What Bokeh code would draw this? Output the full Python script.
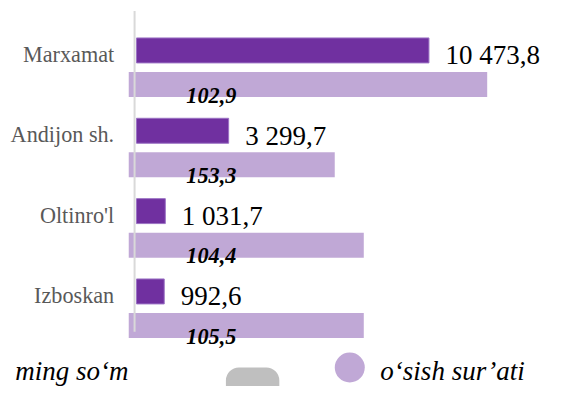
from bokeh.plotting import figure
from bokeh.models import ColumnDataSource, Range1d
from bokeh.core.properties import value
from bokeh.embed import file_html
from bokeh.resources import INLINE

# ---------------- data ----------------
categories = ["Marxamat", "Andijon sh.", "Oltinro'l", "Izboskan"]
volume = [10473.8, 3299.7, 1031.7, 992.6]            # ming so'm
volume_labels = ["10 473,8", "3 299,7", "1 031,7", "992,6"]
growth = [102.9, 153.3, 104.4, 105.5]                # o'sish sur'ati, %
growth_labels = ["102,9", "153,3", "104,4", "105,5"]
growth_bar_extent = [12560, 7100, 8140, 8140]        # drawn length of light bars (value units)
legend_left = "ming so\u2018m"
legend_right = "o\u2018sish sur\u2019ati"

# ---------------- layout ----------------
W, H = 546, 386
SX, SY = W / 562.0, H / 402.0
ZERO_PX = 140 * SX                    # x pixel of value 0
K = (441 * SX - ZERO_PX) / volume[0]  # px per value unit
ROW0_PX, ROW_PX = 52 * SY, 83.67 * SY # first row centre, row spacing (px)
BAR_H = 26 * SY / ROW_PX
LIGHT_OFF = 35.5 * SY / ROW_PX
LIGHT_LEFT = -8.0 * SX / K

FONT = value("Times New Roman, Liberation Serif, serif")
DARK = "#7030A0"
LIGHT = "#C0A8D6"

rows = list(range(len(categories)))

p = figure(width=W, height=H, toolbar_location=None, output_backend="svg",
           x_range=Range1d(-ZERO_PX / K, (W - ZERO_PX) / K),
           y_range=Range1d((H - ROW0_PX) / ROW_PX, -ROW0_PX / ROW_PX),
           x_axis_type=None, y_axis_type=None, min_border=0)
p.extra_x_ranges = {"px": Range1d(0, W)}
p.extra_y_ranges = {"px": Range1d(H, 0)}
p.grid.visible = False
p.outline_line_color = None
p.background_fill_color = "white"

src = ColumnDataSource(dict(
    row=rows,
    cat=categories,
    vol=volume,
    vol_lab=volume_labels,
    light_y=[r + LIGHT_OFF for r in rows],
    light_right=growth_bar_extent,
    light_left=[LIGHT_LEFT] * len(rows),
    g_lab=growth_labels,
    g_base=[r + LIGHT_OFF + BAR_H / 2 - 2.0 / ROW_PX for r in rows],
    v_base=[r + 5.0 / ROW_PX for r in rows],
    c_base=[r + 4.0 / ROW_PX for r in rows],
    cat_x=[117 * SX] * len(rows),
    g_x=[217 * SX] * len(rows),
))

# light bars (o'sish sur'ati)
p.hbar(y="light_y", left="light_left", right="light_right", height=BAR_H,
       source=src, fill_color=LIGHT, line_color=None)

# axis line
p.segment(x0=[138 * SX], y0=[11 * SY], x1=[138 * SX], y1=[345 * SY],
          line_color="#D9D9D9", line_width=2, x_range_name="px", y_range_name="px")

# dark bars (volume)
p.hbar(y="row", left=0, right="vol", height=BAR_H, source=src,
       fill_color=DARK, line_color="#9B72C4", line_width=1)

# category labels
p.text(x="cat_x", y="c_base", text="cat", source=src, x_range_name="px",
       text_font=FONT, text_font_size="22.2px", text_color="#595959",
       text_align="right", text_baseline="alphabetic")

# value labels
p.text(x="vol", y="v_base", text="vol_lab", source=src, x_offset=16.5,
       text_font=FONT, text_font_size="27px", text_color="black",
       text_align="left", text_baseline="alphabetic")

# growth labels
p.text(x="g_x", y="g_base", text="g_lab", source=src, x_range_name="px",
       text_font=FONT, text_font_size="22.2px", text_font_style="bold italic",
       text_color="black", text_align="center", text_baseline="alphabetic")

# legend area
LEG_BASE = 370
p.text(x=[128], y=[LEG_BASE], text=[legend_left], x_range_name="px", y_range_name="px",
       text_font=FONT, text_font_size="27px", text_font_style="italic",
       text_color="black", text_align="right", text_baseline="alphabetic")
p.quad(left=[232 * SX], right=[287 * SX], top=[LEG_BASE - 3], bottom=[H + 20],
       x_range_name="px", y_range_name="px", fill_color="#BFBFBF", line_color=None,
       border_radius=13)
p.ellipse(x=[359.5 * SX], y=[LEG_BASE - 3], width=30, height=30, x_range_name="px",
          y_range_name="px", fill_color=LIGHT, line_color=None)
p.text(x=[391 * SX], y=[LEG_BASE], text=[legend_right], x_range_name="px", y_range_name="px",
       text_font=FONT, text_font_size="27px", text_font_style="italic",
       text_color="black", text_align="left", text_baseline="alphabetic")

open("out.html", "w").write(file_html(p, INLINE))
